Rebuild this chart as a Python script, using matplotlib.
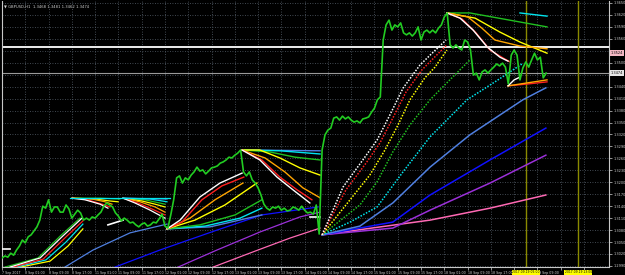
import matplotlib
matplotlib.use("Agg")
import matplotlib.pyplot as plt

# ---------------- data ----------------
closes = [
    1.3010, 1.3015, 1.3012, 1.3022, 1.3017, 1.3030, 1.3040, 1.3055, 1.3048, 1.3063,
    1.3068, 1.3078, 1.3088, 1.3105, 1.3140, 1.3135, 1.3156, 1.3125, 1.3138, 1.3138,
    1.3125, 1.3125, 1.3143, 1.3133, 1.3110, 1.3120, 1.3130, 1.3123, 1.3105, 1.3110,
    1.3105, 1.3113, 1.3110, 1.3118, 1.3125, 1.3140, 1.3148, 1.3143, 1.3138, 1.3123,
    1.3115, 1.3103, 1.3110, 1.3105, 1.3098, 1.3100, 1.3093, 1.3088, 1.3095, 1.3098,
    1.3090, 1.3093, 1.3100, 1.3098, 1.3108, 1.3120, 1.3090, 1.3085, 1.3118, 1.3156,
    1.3211, 1.3216, 1.3198, 1.3211, 1.3206, 1.3218, 1.3226, 1.3238, 1.3228, 1.3231,
    1.3221, 1.3228, 1.3236, 1.3238, 1.3241, 1.3248, 1.3251, 1.3256, 1.3263, 1.3261,
    1.3268, 1.3273, 1.3281, 1.3226, 1.3216, 1.3226, 1.3206, 1.3198, 1.3186, 1.3168,
    1.3145, 1.3135, 1.3130, 1.3138, 1.3135, 1.3140, 1.3130, 1.3135, 1.3128, 1.3130,
    1.3138, 1.3135, 1.3130, 1.3140, 1.3130, 1.3123, 1.3125, 1.3120, 1.3143, 1.3070,
    1.3281, 1.3319, 1.3331, 1.3336, 1.3361, 1.3364, 1.3356, 1.3366, 1.3359, 1.3364,
    1.3356, 1.3351, 1.3354, 1.3349, 1.3359, 1.3361, 1.3364, 1.3376, 1.3386, 1.3407,
    1.3414, 1.3557, 1.3595, 1.3607, 1.3582, 1.3595, 1.3590, 1.3600, 1.3575, 1.3570,
    1.3575, 1.3567, 1.3575, 1.3590, 1.3557, 1.3577, 1.3582, 1.3575, 1.3582, 1.3575,
    1.3587, 1.3595, 1.3615, 1.3625, 1.3545, 1.3537, 1.3545, 1.3537, 1.3532, 1.3557,
    1.3552, 1.3532, 1.3469, 1.3474, 1.3457, 1.3477, 1.3482, 1.3474, 1.3482, 1.3489,
    1.3497, 1.3492, 1.3499, 1.3489, 1.3447, 1.3519, 1.3532, 1.3519, 1.3457, 1.3487,
    1.3502, 1.3489, 1.3507, 1.3524, 1.3507, 1.3514, 1.3462, 1.3474,
]

# labels hidden behind the highlighted boxes are left blank, as in the chart
x_labels = ["7 Sep 2017", "8 Sep 01:00", "8 Sep 09:00", "8 Sep 17:00", "11 Sep 01:00",
            "11 Sep 09:00", "11 Sep 17:00", "12 Sep 01:00", "12 Sep 09:00", "12 Sep 17:00",
            "13 Sep 01:00", "13 Sep 09:00", "13 Sep 17:00", "14 Sep 01:00", "14 Sep 09:00",
            "14 Sep 17:00", "15 Sep 01:00", "15 Sep 09:00", "15 Sep 17:00", "18 Sep 01:00",
            "18 Sep 09:00", "18 Sep 17:00", "", "19 Sep 09:00", "", ""]
x_label_bars = [8 * k for k in range(len(x_labels))]

y_ticks = [1.3650, 1.3620, 1.3590, 1.3560, 1.3530, 1.3500, 1.3470, 1.3440, 1.3410, 1.3380,
           1.3350, 1.3320, 1.3290, 1.3260, 1.3230, 1.3200, 1.3170, 1.3140, 1.3110, 1.3080,
           1.3050, 1.3020, 1.2990]
y_hidden = [1.3530, 1.3470]

title_text = "\u25bc GBPUSD,H1  1.3468 1.3481 1.3462 1.3474"
bid_price = 1.3474
white_level = 1.3540
pink_level = 1.3524
vlines_bars = [180, 198]
vline_labels = ["2017.09.19 05:00", "2017.09.19 23:00"]

# fans: lists of (bar, price)
fanA_green = [(1.0, 1.2987), (12.4, 1.3010), (20.0, 1.3065), (26.8, 1.3110)]
fanA_white = [(2.7, 1.2987), (13.1, 1.3010), (20.6, 1.3063), (27.5, 1.3110)]
fanA_red = [(3.8, 1.2987), (14.1, 1.3007), (21.3, 1.3058), (27.8, 1.3103)]
fanA_cyan = [(4.8, 1.2987), (15.1, 1.3005), (22.0, 1.3050), (27.8, 1.3095)]
fanA_yellow = [(6.2, 1.2987), (16.5, 1.3002), (22.7, 1.3040), (27.8, 1.3083)]
fanA_lblue = [(21.6, 1.2987), (31.3, 1.3030), (44.0, 1.3073), (56.7, 1.3095)]
fanA_blue = [(38.8, 1.2987), (54.3, 1.3030), (73.9, 1.3080), (89.3, 1.3118), (108.6, 1.3138)]
fanA_purple = [(60.5, 1.2987), (73.9, 1.3030), (88.6, 1.3075), (102.4, 1.3113), (109.3, 1.3125)]
fanA_pink = [(72.5, 1.2987), (88.0, 1.3030), (99.0, 1.3060), (109.3, 1.3085)]

fanD_flat = [(23.4, 1.3160), (57.7, 1.3160)]
fanD1_white = [(24.1, 1.3160), (28.5, 1.3156), (33.7, 1.3145), (36.4, 1.3135)]
fanD1_red = [(24.1, 1.3160), (29.5, 1.3156), (34.4, 1.3145), (37.1, 1.3138)]
fanD1_orange = [(24.1, 1.3160), (30.9, 1.3158), (35.4, 1.3151), (37.8, 1.3145)]
fanD1_yellow = [(24.1, 1.3160), (32.0, 1.3158), (37.1, 1.3153), (39.9, 1.3151)]
fanD1_green = [(24.1, 1.3160), (33.7, 1.3160), (40.5, 1.3158)]
fanD2_white = [(41.6, 1.3160), (45.7, 1.3148), (50.9, 1.3130), (56.0, 1.3110)]
fanD2_red = [(41.6, 1.3160), (46.7, 1.3148), (51.5, 1.3133), (56.0, 1.3118)]
fanD2_orange = [(41.6, 1.3160), (47.4, 1.3151), (52.6, 1.3138), (56.0, 1.3125)]
fanD2_yellow = [(41.6, 1.3160), (48.1, 1.3153), (52.6, 1.3145), (56.0, 1.3138)]
fanD2_green = [(41.6, 1.3160), (49.1, 1.3156), (56.0, 1.3145)]
fanD2_cyan = [(41.6, 1.3160), (50.9, 1.3158), (56.7, 1.3151)]
fanD2_blue = [(41.6, 1.3160), (56.7, 1.3158)]

fanB_white = [(56.7, 1.3083), (61.2, 1.3105), (68.0, 1.3163), (74.9, 1.3198), (82.5, 1.3223)]
fanB_red = [(56.7, 1.3083), (61.8, 1.3100), (68.7, 1.3156), (75.6, 1.3191), (83.1, 1.3213)]
fanB_orange = [(56.7, 1.3083), (64.6, 1.3110), (73.2, 1.3156), (82.8, 1.3198)]
fanB_yellow = [(56.7, 1.3083), (66.3, 1.3105), (76.6, 1.3143), (87.6, 1.3198)]
fanB_green = [(56.7, 1.3083), (68.0, 1.3093), (80.1, 1.3118), (89.3, 1.3156)]
fanB_cyan = [(56.7, 1.3083), (69.8, 1.3090), (81.8, 1.3110), (89.3, 1.3135)]
fanB_lblue = [(56.7, 1.3083), (71.5, 1.3088), (89.3, 1.3118)]

fanC_white = [(82.5, 1.3281), (88.6, 1.3256), (94.5, 1.3213), (100.0, 1.3181), (105.8, 1.3148)]
fanC_red = [(82.5, 1.3281), (89.3, 1.3256), (95.5, 1.3213), (101.4, 1.3181), (106.5, 1.3156)]
fanC_orange = [(82.5, 1.3281), (90.4, 1.3261), (97.2, 1.3226), (103.4, 1.3186), (109.3, 1.3161)]
fanC_yellow = [(82.5, 1.3281), (88.6, 1.3281), (95.5, 1.3261), (102.4, 1.3236), (109.3, 1.3218)]
fanC_green = [(82.5, 1.3281), (92.1, 1.3276), (100.7, 1.3263), (109.3, 1.3256)]
fanC_cyan = [(82.5, 1.3281), (95.5, 1.3279), (109.3, 1.3271)]
fanC_blue = [(82.5, 1.3281), (109.3, 1.3279)]

fanE_white = [(110.0, 1.3068), (117.2, 1.3188), (124.0, 1.3256), (128.9, 1.3306), (133.3, 1.3369),
              (137.8, 1.3436), (143.6, 1.3494), (147.1, 1.3519), (152.6, 1.3557)]
fanE_red = [(110.0, 1.3068), (118.2, 1.3181), (125.1, 1.3248), (129.9, 1.3299), (134.3, 1.3361),
            (138.8, 1.3426), (144.3, 1.3482), (147.7, 1.3507), (152.9, 1.3545)]
fanE_yellow = [(110.0, 1.3068), (119.6, 1.3156), (126.4, 1.3218), (131.6, 1.3281), (136.1, 1.3344),
               (140.2, 1.3407), (145.3, 1.3462), (148.8, 1.3489), (152.9, 1.3532)]
fanE_green = [(110.0, 1.3068), (123.0, 1.3143), (128.9, 1.3201), (134.3, 1.3276), (140.2, 1.3344),
              (147.1, 1.3407), (153.9, 1.3457), (160.8, 1.3507)]
fanE_cyan = [(110.0, 1.3068), (119.6, 1.3100), (128.9, 1.3138), (137.8, 1.3226), (147.1, 1.3314),
             (159.8, 1.3407), (169.4, 1.3452), (178.7, 1.3497)]
fanE_lblue = [(110.0, 1.3068), (123.0, 1.3090), (134.3, 1.3148), (147.1, 1.3238), (160.8, 1.3319),
              (179.0, 1.3407), (186.9, 1.3437)]
fanE_blue = [(110.0, 1.3068), (134.3, 1.3100), (147.1, 1.3168), (167.7, 1.3256), (186.9, 1.3336)]
fanE_purple = [(110.0, 1.3068), (134.3, 1.3085), (147.1, 1.3130), (167.7, 1.3198), (186.9, 1.3268)]
fanE_pink = [(110.0, 1.3068), (147.1, 1.3105), (167.7, 1.3135), (186.9, 1.3168)]

fanF_white = [(152.9, 1.3625), (157.4, 1.3612), (161.9, 1.3582), (166.7, 1.3540), (171.1, 1.3514), (173.9, 1.3504)]
fanF_red = [(152.9, 1.3625), (158.1, 1.3610), (162.9, 1.3575), (167.7, 1.3532), (172.2, 1.3512), (174.6, 1.3502)]
fanF_orange = [(152.9, 1.3625), (160.1, 1.3615), (164.9, 1.3587), (169.4, 1.3557), (178.0, 1.3542), (187.3, 1.3535)]
fanF_yellow = [(152.9, 1.3625), (162.6, 1.3612), (171.1, 1.3577), (178.0, 1.3552), (187.3, 1.3524)]
fanF_green = [(152.9, 1.3625), (160.8, 1.3625), (187.3, 1.3590)]
fanF_cyan = [(178.0, 1.3625), (187.3, 1.3617)]

fanG_white = [(173.9, 1.3442), (176.0, 1.3457), (178.0, 1.3464)]
fanG_orange = [(173.9, 1.3442), (187.3, 1.3457)]
fanG_red = [(173.9, 1.3442), (181.0, 1.3447), (187.3, 1.3452)]

white_dash1 = [(0.0, 1.3033), (2.7, 1.3033)]
white_dash2 = [(36.4, 1.3093), (41.6, 1.3105)]
white_dash3 = [(105.8, 1.3113), (109.3, 1.3113)]

# ---------------- styles ----------------
C_WHITE = "#ffffff"; C_RED = "#ff2020"; C_ORANGE = "#ffa500"; C_YELLOW = "#ffff00"
C_GREEN = "#20c020"; C_CYAN = "#00e5ee"; C_LBLUE = "#4f7fe0"; C_BLUE = "#1010ff"
C_PURPLE = "#9b30d9"; C_PINK = "#ff69b4"
DOT = (0, (1, 1))

fig = plt.figure(figsize=(6.25, 2.75), dpi=100, facecolor="black")
ax = fig.add_axes([2 / 625, 8 / 275, 607 / 625, 266 / 275], facecolor="black")

bars = list(range(len(closes)))
ax.set_xlim(0, 208.6)
ax.set_ylim(1.29873, 1.36550)

ax.set_xticks(x_label_bars)
ax.set_xticklabels(x_labels)
ax.set_yticks(y_ticks)
ax.set_yticklabels(["" if v in y_hidden else f"{v:.4f}" for v in y_ticks])
ax.grid(True, color="#56606c", linestyle=(0, (1, 2)), linewidth=0.6)
ax.set_axisbelow(True)

ax.axhline(white_level, color="white", linewidth=1.3, zorder=2)
ax.axhline(bid_price, color="#9a9a9a", linewidth=0.8, zorder=2)
for b in vlines_bars:
    ax.axvline(b, color="#8a8a00", linewidth=1.0, zorder=2)

def draw(pts, color, ls="-", lw=0.9, z=3):
    xs = [p[0] for p in pts]
    ys = [p[1] for p in pts]
    ax.plot(xs, ys, color=color, linestyle=ls, linewidth=lw, zorder=z)

for pts, c in [(fanA_pink, C_PINK), (fanA_purple, C_PURPLE), (fanA_blue, C_BLUE),
               (fanA_lblue, C_LBLUE), (fanA_yellow, C_YELLOW), (fanA_cyan, C_CYAN),
               (fanA_green, C_GREEN), (fanA_red, C_RED), (fanA_white, C_WHITE)]:
    draw(pts, c)
for pts, c in [(fanD1_green, C_GREEN), (fanD1_yellow, C_YELLOW), (fanD1_orange, C_ORANGE),
               (fanD1_red, C_RED), (fanD1_white, C_WHITE),
               (fanD2_green, C_GREEN), (fanD2_yellow, C_YELLOW), (fanD2_orange, C_ORANGE),
               (fanD2_red, C_RED), (fanD2_white, C_WHITE), (fanD2_cyan, C_CYAN),
               (fanD2_blue, C_LBLUE), (fanD_flat, C_CYAN)]:
    draw(pts, c)
for pts, c in [(fanB_lblue, C_LBLUE), (fanB_cyan, C_CYAN), (fanB_green, C_GREEN),
               (fanB_yellow, C_YELLOW), (fanB_orange, C_ORANGE), (fanB_red, C_RED),
               (fanB_white, C_WHITE)]:
    draw(pts, c, lw=1.0)
for pts, c in [(fanC_blue, C_LBLUE), (fanC_cyan, C_CYAN), (fanC_green, C_GREEN),
               (fanC_yellow, C_YELLOW), (fanC_orange, C_ORANGE), (fanC_red, C_RED),
               (fanC_white, C_WHITE)]:
    draw(pts, c, lw=1.0)
for pts, c, ls in [(fanE_pink, C_PINK, "-"), (fanE_purple, C_PURPLE, "-"), (fanE_blue, C_BLUE, "-"),
                   (fanE_lblue, C_LBLUE, "-"), (fanE_cyan, C_CYAN, DOT), (fanE_green, C_GREEN, DOT),
                   (fanE_yellow, C_YELLOW, DOT), (fanE_red, C_RED, DOT), (fanE_white, C_WHITE, DOT)]:
    draw(pts, c, ls=ls, lw=1.1)
for pts, c in [(fanF_cyan, C_CYAN), (fanF_green, C_GREEN), (fanF_yellow, C_YELLOW),
               (fanF_orange, C_ORANGE), (fanF_red, C_RED), (fanF_white, C_WHITE)]:
    draw(pts, c, lw=1.0)
for pts, c in [(fanG_red, C_RED), (fanG_orange, C_ORANGE), (fanG_white, C_WHITE)]:
    draw(pts, c, lw=1.0)
for pts in [white_dash1, white_dash2, white_dash3]:
    draw(pts, C_WHITE, lw=1.2)

ax.plot(bars, closes, color="#22cc22", linewidth=1.2, zorder=4)

for s in ["left", "bottom", "right"]:
    ax.spines[s].set_color("#c8c8c8")
    ax.spines[s].set_linewidth(0.8)
ax.spines["top"].set_visible(False)
ax.yaxis.tick_right()
ax.tick_params(axis="both", colors="#d0d0d0", length=2, width=0.5, pad=1)
ax.tick_params(axis="x", labelsize=2.3)
ax.tick_params(axis="y", labelsize=2.5)
for lbl in ax.get_xticklabels():
    lbl.set_horizontalalignment("left")

ax.text(0.004, 0.985, title_text, transform=ax.transAxes, color="#d0d0d0",
        fontsize=2.7, ha="left", va="top")

ax.text(1.003, pink_level, f"{pink_level:.4f}", transform=ax.get_yaxis_transform(),
        fontsize=2.5, color="black", ha="left", va="center",
        bbox=dict(boxstyle="square,pad=0.25", facecolor="#f4b8c4", edgecolor="none"))
ax.text(1.003, bid_price, f"{bid_price:.4f}", transform=ax.get_yaxis_transform(),
        fontsize=2.5, color="black", ha="left", va="center",
        bbox=dict(boxstyle="square,pad=0.25", facecolor="#e6e6e6", edgecolor="none"))

for b, t in zip(vlines_bars, vline_labels):
    ax.text(b, -0.012, t, transform=ax.get_xaxis_transform(), fontsize=2.2, color="black",
            ha="center", va="top", zorder=10, clip_on=False,
            bbox=dict(boxstyle="square,pad=0.15", facecolor="#ffff00", edgecolor="none"))

fig.savefig("out.png", dpi=100, facecolor="black")
